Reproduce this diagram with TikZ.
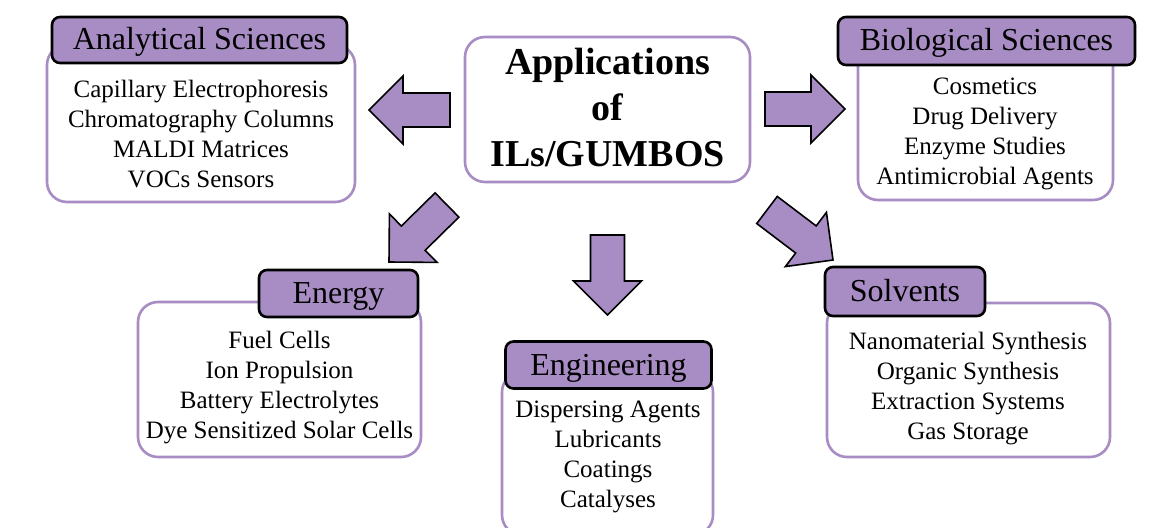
\documentclass[tikz,border=0pt]{standalone}
\usepackage{fontspec}
\setmainfont{Liberation Serif}
\usetikzlibrary{calc}

\definecolor{ilpurple}{RGB}{168,140,196}

\tikzset{
  listbox/.style={draw=ilpurple, line width=2.6pt, fill=white, rounded corners=20pt},
  titlebox/.style={draw=black, line width=2.6pt, fill=ilpurple, rounded corners=8pt,
    text height=27, text depth=7, font=\fontsize{32}{36}\selectfont},
  listtext/.style={align=center, inner sep=0pt, font=\fontsize{25}{30}\selectfont},
  blockarr/.style={draw=black, line width=1.6pt, fill=ilpurple, line join=miter}
}

% block arrow from (#1-s) to its tip (#1-t)
\newcommand{\blockarrow}[1]{%
  \coordinate (#1-h) at ($(#1-t)!34pt!(#1-s)$);
  \draw[blockarr]
    ($(#1-s)!17pt!90:(#1-t)$) -- ($(#1-h)!17pt!90:(#1-t)$) -- ($(#1-h)!34pt!90:(#1-t)$)
    -- (#1-t) --
    ($(#1-h)!34pt!-90:(#1-t)$) -- ($(#1-h)!17pt!-90:(#1-t)$) -- ($(#1-s)!17pt!-90:(#1-t)$) -- cycle;
}

\begin{document}
\begin{tikzpicture}[x=1pt, y=-1pt]
  \useasboundingbox[fill=white] (0,0) rectangle (1161,527);

  % centre
  \node[listbox, minimum width=285, minimum height=145] (apps) at (607.5,109.5) {};
  \node[align=center, inner sep=0pt, font=\fontsize{38}{46}\selectfont\bfseries] (appsText) at (607.5,108) {Applications\\of\\ILs/GUMBOS};

  % analytical sciences
  \node[listbox, minimum width=308, minimum height=157] (anaBox) at (201,123.5) {};
  \node[titlebox, minimum width=295, minimum height=46] (anaTitle) at (199.5,40) {Analytical Sciences};
  \node[listtext] (anaList) at (201,134) {Capillary Electrophoresis\\Chromatography Columns\\MALDI Matrices\\VOCs Sensors};

  % biological sciences
  \node[listbox, minimum width=255, minimum height=155] (bioBox) at (985.5,122.5) {};
  \node[titlebox, minimum width=297, minimum height=48] (bioTitle) at (986.5,41) {Biological Sciences};
  \node[listtext] (bioList) at (985,134) {Cosmetics\\Drug Delivery\\Enzyme Studies\\Antimicrobial Agents};

  % energy
  \node[listbox, minimum width=283, minimum height=155] (eneBox) at (279.5,379.5) {};
  \node[titlebox, minimum width=159, minimum height=47] (eneTitle) at (338.5,293.5) {Energy};
  \node[listtext] (eneList) at (279.5,388) {Fuel Cells\\Ion Propulsion\\Battery Electrolytes\\Dye Sensitized Solar Cells};

  % engineering
  \node[listbox, minimum width=211, minimum height=163] (engBox) at (607.5,453.5) {};
  \node[titlebox, minimum width=206, minimum height=47] (engTitle) at (608.5,365) {Engineering};
  \node[listtext] (engList) at (608,457) {Dispersing Agents\\Lubricants\\Coatings\\Catalyses};

  % solvents
  \node[listbox, minimum width=283, minimum height=154] (solBox) at (968.5,380) {};
  \node[titlebox, minimum width=160, minimum height=49] (solTitle) at (905,291.5) {Solvents};
  \node[listtext] (solList) at (968,389) {Nanomaterial Synthesis\\Organic Synthesis\\Extraction Systems\\Gas Storage};

  % arrows
  \coordinate (left-s) at (450,110);      \coordinate (left-t) at (369,110);
  \coordinate (right-s) at (765,109);     \coordinate (right-t) at (845,109);
  \coordinate (down-s) at (607.5,235);    \coordinate (down-t) at (607.5,315);
  \coordinate (downleft-s) at (447,205);  \coordinate (downleft-t) at (389,262);
  \coordinate (downright-s) at (767,210); \coordinate (downright-t) at (833,260);
  \foreach \a in {left, right, down, downleft, downright} { \blockarrow{\a} }
\end{tikzpicture}
\end{document}
